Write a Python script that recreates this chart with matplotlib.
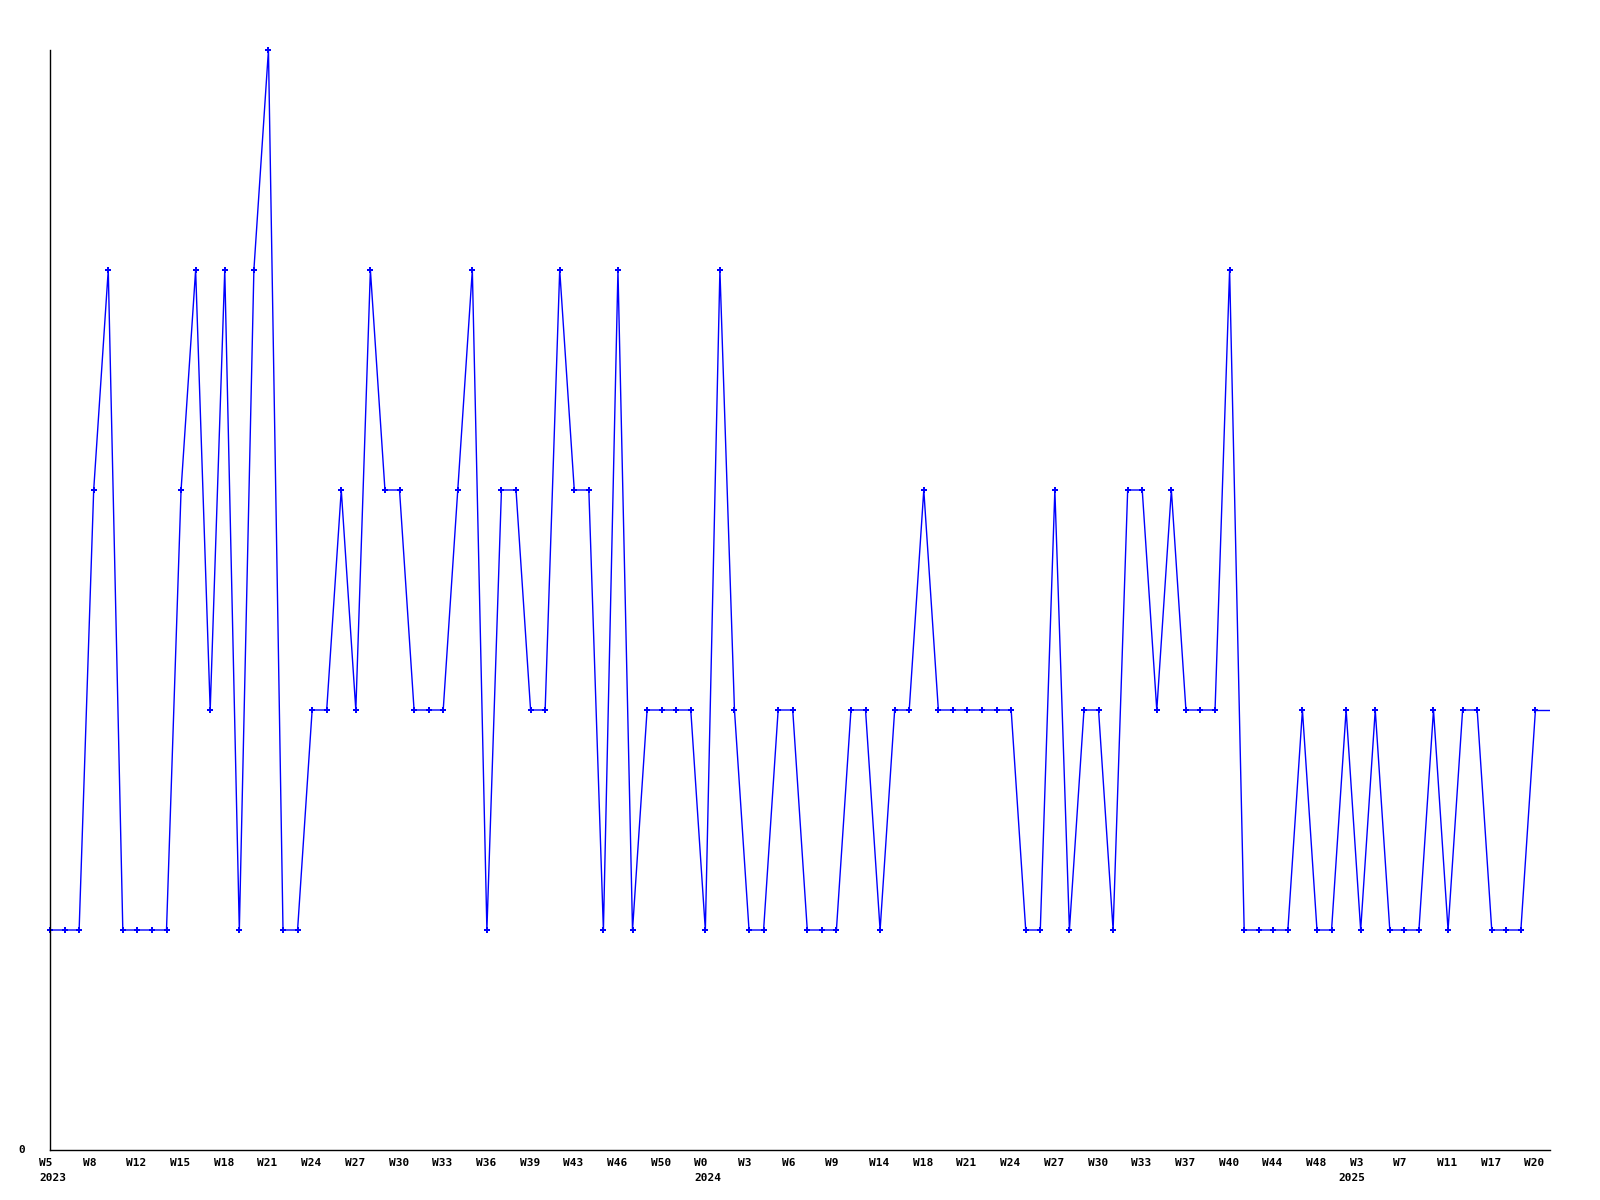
import matplotlib
matplotlib.use("Agg")
import matplotlib.pyplot as plt
from matplotlib.transforms import offset_copy

values = [1, 1, 1, 3, 4, 1, 1, 1, 1, 3,
          4, 2, 4, 1, 4, 5, 1, 1, 2, 2,
          3, 2, 4, 3, 3, 2, 2, 2, 3, 4,
          1, 3, 3, 2, 2, 4, 3, 3, 1, 4,
          1, 2, 2, 2, 2, 1, 4, 2, 1, 1,
          2, 2, 1, 1, 1, 2, 2, 1, 2, 2,
          3, 2, 2, 2, 2, 2, 2, 1, 1, 3,
          1, 2, 2, 1, 3, 3, 2, 3, 2, 2,
          2, 4, 1, 1, 1, 1, 2, 1, 1, 2,
          1, 2, 1, 1, 1, 2, 1, 2, 2, 1,
          1, 1, 2]

week_labels = ["W5", "W8", "W12", "W15", "W18", "W21", "W24", "W27", "W30", "W33",
               "W36", "W39", "W43", "W46", "W50", "W0", "W3", "W6", "W9", "W14",
               "W18", "W21", "W24", "W27", "W30", "W33", "W37", "W40", "W44", "W48",
               "W3", "W7", "W11", "W17", "W20"]
year_labels = {0: "2023", 15: "2024", 30: "2025"}

fig = plt.figure(figsize=(16, 12), dpi=100)
ax = fig.add_axes([50/1600, 50/1200, 1500/1600, 1100/1200])

n = len(values)
x = list(range(n))
ax.plot(x, values, color="#0000ff", lw=1.0, marker="P", ms=4.5,
        mec="#0000ff", mfc="#0000ff", mew=0, clip_on=False)
# continuation of the last value to the right edge
ax.plot([n - 1, n], [values[-1], values[-1]], color="#0000ff", lw=1.0)

ax.set_xlim(0, n)
ax.set_ylim(0, max(values))
for s in ["top", "right"]:
    ax.spines[s].set_visible(False)
for s in ["left", "bottom"]:
    ax.spines[s].set_linewidth(1.0)
    ax.spines[s].set_color("black")
ax.set_xticks([])
ax.set_yticks([])

font = dict(family="DejaVu Sans Mono", fontsize=8, fontweight="bold")
trans_x = offset_copy(ax.get_xaxis_transform(), fig=fig, x=-11, y=-8, units="dots")
for k, lab in enumerate(week_labels):
    ax.text(k * 3, 0, lab, transform=trans_x, ha="left", va="top", **font)
for k, lab in year_labels.items():
    dx = -11 if len(week_labels[k]) > 2 or k == 0 or k == 15 else -22
    trans_y = offset_copy(ax.get_xaxis_transform(), fig=fig, x=dx, y=-23, units="dots")
    ax.text(k * 3, 0, lab, transform=trans_y, ha="left", va="top", **font)

ax.text(0, 0, "0", transform=offset_copy(ax.transData, fig=fig, x=-28, y=0, units="dots"),
        ha="center", va="center", **font)

fig.savefig("out.png", dpi=100)
